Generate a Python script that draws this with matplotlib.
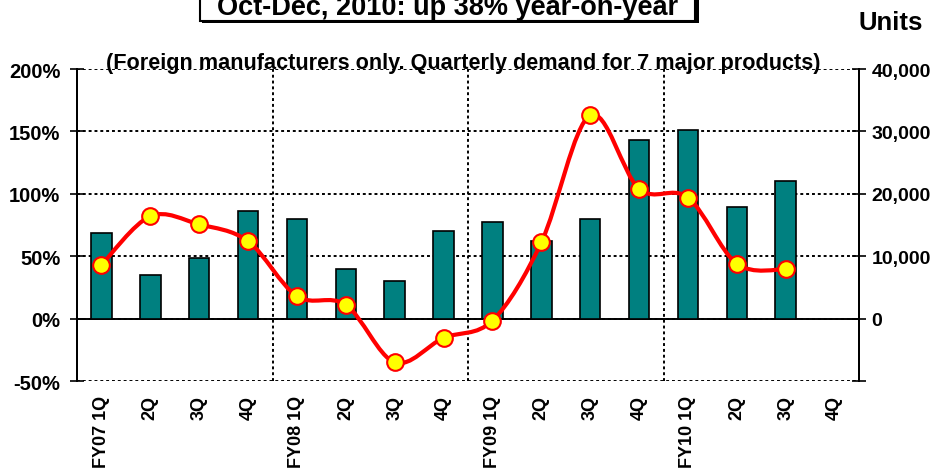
import numpy as np
import matplotlib
matplotlib.use("Agg")
import matplotlib.pyplot as plt
from matplotlib import font_manager
from matplotlib.path import Path
from matplotlib.patches import PathPatch, Rectangle
from matplotlib.ticker import FixedLocator

# --- data ---
quarters = ["FY07 1Q", "2Q", "3Q", "4Q",
            "FY08 1Q", "2Q", "3Q", "4Q",
            "FY09 1Q", "2Q", "3Q", "4Q",
            "FY10 1Q", "2Q", "3Q", "4Q"]
units = [13700, 7000, 9700, 17200,
         16000, 8000, 6100, 14100,
         15500, 12400, 16000, 28700,
         30300, 17900, 22100, np.nan]
yoy_pct = [43, 82, 75.5, 62,
           18, 11, -35, -15.5,
           -1.6, 61, 163, 104,
           97, 44, 39.5]
pct_ticks = [-50, 0, 50, 100, 150, 200]
pct_labels = ["-50%", "0%", "50%", "100%", "150%", "200%"]
unit_ticks = [-10000, 0, 10000, 20000, 30000, 40000]
unit_labels = ["", "0", "10,000", "20,000", "30,000", "40,000"]
year_breaks = [3.5, 7.5, 11.5]

TITLE = "Oct-Dec, 2010: up 38% year-on-year"
SUBTITLE = "(Foreign manufacturers only. Quarterly demand for 7 major products)"

avail = {f.name for f in font_manager.fontManager.ttflist}
NARROW = "Liberation Sans Narrow" if "Liberation Sans Narrow" in avail else "Liberation Sans"
WIDE = "Liberation Sans"

TEAL = "#008080"
RED = "#FF0000"
YELLOW = "#FFFF00"
DOT = (0, (1.5, 1.5))

W, H = 935, 477
fig = plt.figure(figsize=(W / 100, H / 100), dpi=100)
ax = fig.add_axes([77 / W, 1 - 382 / H, (859 - 77) / W, (382 - 70) / H])
ax2 = ax.twinx()

x = np.arange(len(quarters))

# bars on the units axis (primary, labelled on the right)
ax.bar(x, units, width=0.42, color=TEAL, edgecolor="black", linewidth=1.2, zorder=3)
ax.set_xlim(-0.5, len(quarters) - 0.5)
ax.set_ylim(unit_ticks[0], unit_ticks[-1])
ax.yaxis.set_major_locator(FixedLocator(unit_ticks))
ax.set_yticklabels(unit_labels)
ax.yaxis.tick_right()
ax.yaxis.grid(True, color="black", linestyle=DOT, linewidth=1.4, zorder=0)
ax.axhline(0, color="black", linewidth=1.4, zorder=2)
ax.xaxis.set_minor_locator(FixedLocator(year_breaks))
ax.xaxis.grid(True, which="minor", color="black", linestyle=DOT, linewidth=1.4)
ax.set_axisbelow(True)

ax.set_xticks(x)
ax.set_xticklabels(quarters, rotation=90, va="top", ha="center",
                   family=WIDE, fontweight="bold", fontsize=13)
ax.tick_params(axis="x", which="both", length=0, pad=10)
ax.tick_params(axis="y", direction="inout", length=10, width=1.2, pad=4)
for lab in ax.get_yticklabels():
    lab.set_family(NARROW)
    lab.set_fontweight("bold")
    lab.set_fontsize(14)

# growth line on the % axis (twin, labelled on the left)
ax2.set_ylim(pct_ticks[0], pct_ticks[-1])
ax2.yaxis.set_major_locator(FixedLocator(pct_ticks))
ax2.set_yticklabels(pct_labels)
ax2.yaxis.tick_left()
ax2.tick_params(axis="y", direction="inout", length=10, width=1.2, pad=7)
for lab in ax2.get_yticklabels():
    lab.set_family(NARROW)
    lab.set_fontweight("bold")
    lab.set_fontsize(14.5)

# smoothed line (Bezier through the points, as the spreadsheet draws it)
pts = np.column_stack([x[:len(yoy_pct)], yoy_pct]).astype(float)
padded = np.vstack([pts[0], pts, pts[-1]])
verts = [tuple(pts[0])]
codes = [Path.MOVETO]
for i in range(len(pts) - 1):
    p0, p1, p2, p3 = padded[i], padded[i + 1], padded[i + 2], padded[i + 3]
    c1 = p1 + (p2 - p0) / 6
    c2 = p2 - (p3 - p1) / 6
    verts += [tuple(c1), tuple(c2), tuple(p2)]
    codes += [Path.CURVE4] * 3
ax2.add_patch(PathPatch(Path(verts, codes), facecolor="none", edgecolor=RED,
                        linewidth=3, capstyle="round", joinstyle="round", zorder=4))
ax2.plot(pts[:, 0], pts[:, 1], linestyle="none", marker="o", markersize=12,
         markerfacecolor=YELLOW, markeredgecolor=RED, markeredgewidth=1.5, zorder=5)

for a in (ax, ax2):
    a.spines["top"].set_visible(False)
    a.spines["bottom"].set_visible(False)
    a.spines["left"].set_linewidth(1.4)
    a.spines["right"].set_linewidth(1.4)
ax2.patch.set_visible(False)

# headline box, cut off at the top edge (as in the source slide)
shadow = Rectangle((202 / W, 1 - 24 / H), (697 - 200) / W, 40 / H, transform=fig.transFigure,
                   facecolor="black", edgecolor="none", zorder=1)
box = Rectangle((200 / W, 1 - 22 / H), (695 - 200) / W, 40 / H, transform=fig.transFigure,
                facecolor="white", edgecolor="black", linewidth=1.5, zorder=2)
fig.patches.extend([shadow, box])
fig.text(448 / W, 1 - 15 / H, TITLE, ha="center", va="baseline", family=NARROW,
         fontweight="bold", fontsize=19.5, zorder=3)
fig.text(891 / W, 1 - 30 / H, "Units", ha="center", va="baseline", family=NARROW,
         fontweight="bold", fontsize=18.5)
fig.text(463 / W, 1 - 69 / H, SUBTITLE, ha="center", va="baseline", family=NARROW,
         fontweight="bold", fontsize=15.6)

fig.savefig("out.png", dpi=100)
